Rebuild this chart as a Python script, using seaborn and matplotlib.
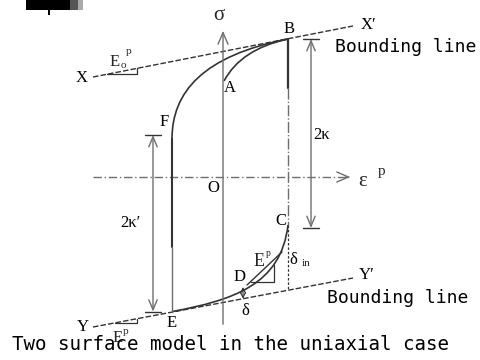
import numpy as np
import pandas as pd
import seaborn as sns
import matplotlib
matplotlib.use("Agg")
import matplotlib.pyplot as plt
from matplotlib.path import Path
from matplotlib.patches import PathPatch, Rectangle

sns.set_theme(style="white")
plt.rcParams["font.family"] = ["Liberation Serif", "DejaVu Serif"]

# Key points of the stress-strain loop (plastic strain, stress) in drawing units
point_names = ["O", "A", "B", "C", "E", "F"]
point_eps = [0, 1, 65, 65, -51, -51]
point_sig = [0, 96, 138, -48, -134.6, 38]

# Bounding lines X-X' and Y-Y'
bound_eps = [-130, 130]
upper_sig = [100, 151]
lower_sig = [-150, -101]

# Bezier control points of the three branches
curve_fb_eps = [-51, -51, -20, 65]
curve_fb_sig = [38, 85, 121.3, 138]
curve_ab_eps = [1, 18, 65]
curve_ab_sig = [96, 128, 138]
curve_ec_eps = [-51, 10, 58, 65]
curve_ec_sig = [-134.6, -123.1, -108, -48]

P = dict(zip(point_names, zip(point_eps, point_sig)))
dark = "#333333"
grey = "#6e6e6e"

fig = plt.figure(figsize=(4.8, 3.6), dpi=100)
ax = fig.add_axes([0, 0, 1, 1])
ax.set_xlim(-223, 257)
ax.set_ylim(-183, 177)
ax.axis("off")

# Bounding lines
bl = pd.DataFrame({"eps": bound_eps * 2, "sig": upper_sig + lower_sig,
                   "line": ["upper", "upper", "lower", "lower"]})
for name, g in bl.groupby("line"):
    sns.lineplot(data=g, x="eps", y="sig", ax=ax, color=dark, lw=1.0,
                 linestyle=(0, (4, 1.5)), legend=False)

def upper_line(e):
    return np.interp(e, bound_eps, upper_sig)

def lower_line(e):
    return np.interp(e, bound_eps, lower_sig)

# Coordinate axes
ax.annotate("", xy=(0, 149), xytext=(0, -150),
            arrowprops=dict(arrowstyle="->,head_length=0.7,head_width=0.3",
                            color=grey, lw=1.0))
ax.plot([-130, 126], [0, 0], color=grey, lw=1.0, ls=(0, (6, 2, 1, 2)))
ax.annotate("", xy=(130, 0), xytext=(120, 0),
            arrowprops=dict(arrowstyle="->,head_length=0.7,head_width=0.3",
                            color=grey, lw=1.0))

# Curved branches
def bezier(xs, ys, code):
    verts = list(zip(xs, ys))
    codes = [Path.MOVETO] + [code] * (len(verts) - 1)
    return PathPatch(Path(verts, codes), fill=False, ec=dark, lw=1.2)

ax.add_patch(bezier(curve_fb_eps, curve_fb_sig, Path.CURVE4))
ax.add_patch(bezier(curve_ab_eps, curve_ab_sig, Path.CURVE3))
ax.add_patch(bezier(curve_ec_eps, curve_ec_sig, Path.CURVE4))

# Vertical unloading lines
eF, sF = P["F"]
eE, sE = P["E"]
ax.plot([eF, eF], [sF, -70], color=dark, lw=1.5)
ax.plot([eF, eF], [-70, sE], color=grey, lw=1.0)
eB, sB = P["B"]
eC, sC = P["C"]
ax.plot([eB, eB], [sB, 89], color=dark, lw=1.6)
ax.plot([eB, eB], [89, sC], color=grey, lw=1.0, ls=(0, (8, 1.5, 1, 1.5)))
ax.plot([eC, eC], [sC, lower_line(eC)], color=dark, lw=0.9, ls=(0, (2, 1.5)))

# 2 kappa dimension arrows
def dim_arrow(e, s0, s1, half):
    ax.annotate("", xy=(e, s0), xytext=(e, s1),
                arrowprops=dict(arrowstyle="<->,head_length=0.6,head_width=0.25",
                                color=grey, lw=1.0, shrinkA=0, shrinkB=0))
    ax.plot([e - half, e + half], [s0, s0], color=dark, lw=1.0)
    ax.plot([e - half, e + half], [s1, s1], color=dark, lw=1.0)

dim_arrow(88, sB, -51, 8)
dim_arrow(-70, 42, sE, 8)

# Slope triangles on the bounding lines
def slope_triangle(e0, e1, f):
    ax.plot([e0, e1, e1], [f(e0), f(e0), f(e1)], color=dark, lw=0.9)

slope_triangle(-116, -86, upper_line)
slope_triangle(-108, -86, lower_line)

# Tangent at D with its slope triangle
ax.plot([24, 59], [-108, -75], color=dark, lw=1.0)
ax.plot([28, 51, 51], [-105, -105, -88], color=dark, lw=0.9)

# delta between curve and bounding line
ax.annotate("", xy=(20, -110), xytext=(20, lower_line(20)),
            arrowprops=dict(arrowstyle="<->,head_length=0.3,head_width=0.15",
                            color=dark, lw=0.8, shrinkA=0, shrinkB=0))

# Labels
lab = dict(fontsize=12, color="black", ha="center", va="center")
ax.text(-4, 162, "σ", fontsize=15, ha="center", va="center")
ax.text(-141, 99, "X", **lab)
ax.text(145, 152, "X′", **lab)
ax.text(66, 148, "B", **lab)
ax.text(7, 89, "A", **lab)
ax.text(-59, 55, "F", **lab)
ax.text(-10, -11, "O", **lab)
ax.text(140, -4, "ε", fontsize=15, ha="center", va="center")
ax.text(159, 6, "p", fontsize=11, ha="center", va="center")
ax.text(99, 42, "2κ", **lab)
ax.text(-93, -46, "2κ′", **lab)
ax.text(58, -44, "C", **lab)
ax.text(17, -100, "D", **lab)
ax.text(36, -84, "E", fontsize=13, ha="center", va="center")
ax.text(45, -76, "p", fontsize=7, ha="center", va="center")
ax.text(70, -83, "δ", **lab)
ax.text(83, -86, "in", fontsize=8, ha="center", va="center")
ax.text(144, -98, "Y′", **lab)
ax.text(22, -134, "δ", **lab)
ax.text(-51, -146, "E", **lab)
ax.text(-140, -150, "Y", **lab)
ax.text(-108, 115, "E", fontsize=12, ha="center", va="center")
ax.text(-100, 111, "o", fontsize=8, ha="center", va="center")
ax.text(-94, 126, "p", fontsize=8, ha="center", va="center")
ax.text(-105, -161, "E", fontsize=12, ha="center", va="center")
ax.text(-97, -154, "p", fontsize=8, ha="center", va="center")

mono = dict(family=["DejaVu Sans Mono"], color="black", va="center")
ax.text(112, 130, "Bounding line", fontsize=13, ha="left", **mono)
ax.text(104, -121, "Bounding line", fontsize=13, ha="left", **mono)
ax.text(-211, -167, "Two surface model in the uniaxial case", fontsize=13.8,
        ha="left", **mono)

# Ink blot in the upper left corner
ax.add_patch(Rectangle((-197, 167), 44, 10, color="black", lw=0))
ax.add_patch(Rectangle((-153, 167), 8, 10, color="#555555", lw=0))
ax.add_patch(Rectangle((-145, 167), 5, 10, color="#aaaaaa", lw=0))
ax.add_patch(Rectangle((-175, 162), 2, 5, color="black", lw=0))

fig.savefig("out.png", dpi=100)
